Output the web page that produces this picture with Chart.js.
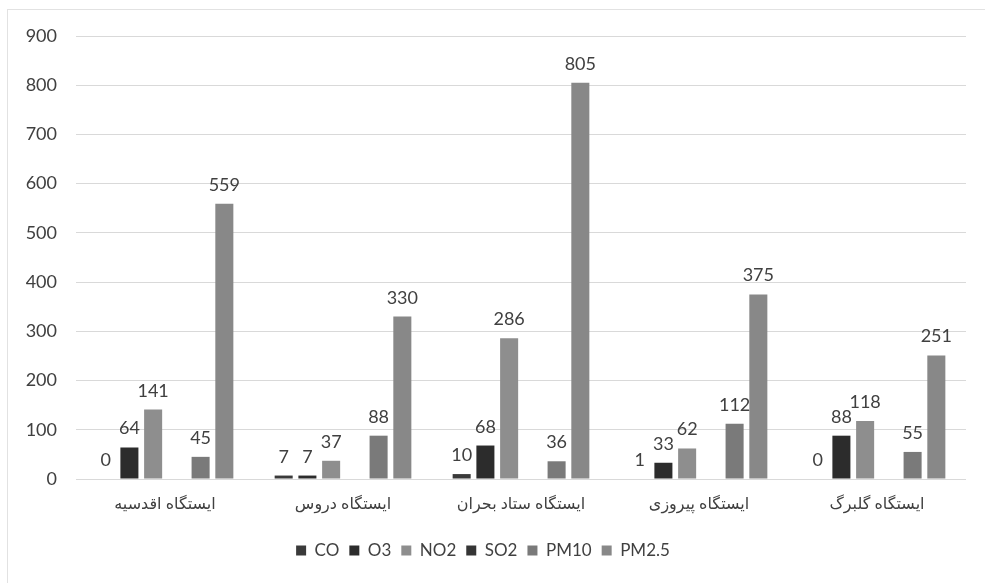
<!DOCTYPE html>
<html>
<head>
<meta charset="utf-8">
<script src="https://cdn.jsdelivr.net/npm/chart.js@4"></script>
<style>
  html, body { margin: 0; padding: 0; background: #ffffff; }
  #wrap { position: relative; width: 985px; height: 583px; }
  #frame { position: absolute; left: 7px; top: 9px; width: 990px; height: 600px; border: 1px solid #e2e2e2; box-sizing: border-box; pointer-events: none; }
  canvas { position: absolute; left: 0; top: 0; }
</style>
</head>
<body>
<div id="wrap">
  <div id="frame"></div>
  <canvas id="c" width="985" height="583"></canvas>
</div>
<script>
const categories = ['ایستگاه اقدسیه', 'ایستگاه دروس', 'ایستگاه ستاد بحران', 'ایستگاه پیروزی', 'ایستگاه گلبرگ'];
const seriesNames = ['CO', 'O3', 'NO2', 'SO2', 'PM10', 'PM2.5'];
const CO    = [0, 7, 10, 1, 0];
const O3    = [64, 7, 68, 33, 88];
const NO2   = [141, 37, 286, 62, 118];
const SO2   = [null, null, null, null, null];
const PM10  = [45, 88, 36, 112, 55];
const PM25  = [559, 330, 805, 375, 251];
const yTicks = [0, 100, 200, 300, 400, 500, 600, 700, 800, 900];

const seriesValues = [CO, O3, NO2, SO2, PM10, PM25];
const seriesColors = ['#3a3a3a', '#2c2c2c', '#8e8e8e', '#353535', '#7a7a7a', '#888888'];

const FONT = "Lato, 'DejaVu Sans', sans-serif";

const valueLabels = {
  id: 'valueLabels',
  afterDatasetsDraw(chart) {
    const ctx = chart.ctx;
    ctx.save();
    ctx.font = '18px ' + FONT;
    ctx.fillStyle = '#404040';
    ctx.textAlign = 'center';
    ctx.textBaseline = 'alphabetic';
    chart.data.datasets.forEach((ds, i) => {
      const meta = chart.getDatasetMeta(i);
      meta.data.forEach((el, j) => {
        const v = ds.data[j];
        if (v === null || v === undefined) return;
        ctx.fillText(String(v), el.x, el.y - 13);
      });
    });
    ctx.restore();
  }
};

new Chart(document.getElementById('c'), {
  type: 'bar',
  data: {
    labels: categories,
    datasets: seriesNames.map((n, i) => ({
      label: n,
      data: seriesValues[i],
      backgroundColor: seriesColors[i],
      borderWidth: 0,
      categoryPercentage: 0.8,
      barPercentage: 0.76
    }))
  },
  options: {
    responsive: false,
    animation: false,
    layout: { padding: { left: 0, right: 19, top: 36, bottom: 14 } },
    plugins: {
      legend: {
        position: 'bottom',
        labels: {
          font: { family: FONT, size: 17 },
          color: '#404040',
          boxWidth: 10,
          boxHeight: 10,
          padding: 10
        }
      },
      tooltip: { enabled: false }
    },
    scales: {
      x: {
        grid: { display: false },
        border: { display: false },
        ticks: {
          font: { family: FONT, size: 16 },
          color: '#404040',
          padding: 7
        },
        afterFit(scale) { scale.height = 53; }
      },
      y: {
        min: 0,
        max: 900,
        afterBuildTicks(scale) { scale.ticks = yTicks.map(v => ({ value: v })); },
        grid: { color: '#d9d9d9', lineWidth: 1, drawTicks: false },
        border: { display: false },
        ticks: {
          font: { family: FONT, size: 18 },
          color: '#404040',
          padding: 19
        },
        afterFit(scale) { scale.width = 76; }
      }
    }
  },
  plugins: [valueLabels]
});
</script>
</body>
</html>
